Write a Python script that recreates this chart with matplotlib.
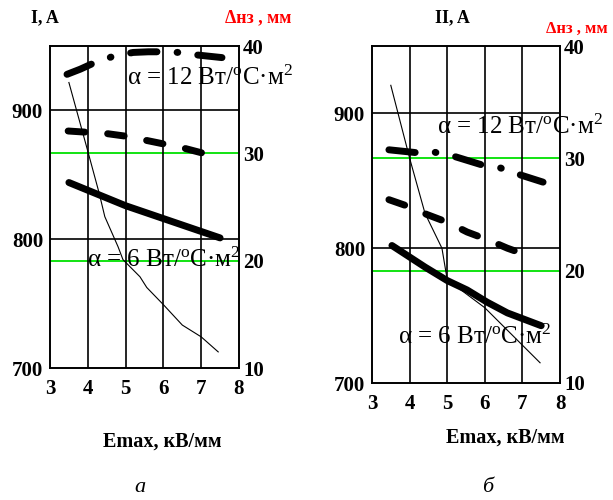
import numpy as np
import matplotlib
matplotlib.use("Agg")
import matplotlib.pyplot as plt

plt.rcParams['font.family'] = ['Liberation Serif', 'DejaVu Serif']
plt.rcParams['mathtext.fontset'] = 'custom'
plt.rcParams['mathtext.rm'] = 'Liberation Serif'
plt.rcParams['mathtext.it'] = 'Liberation Serif:italic'
plt.rcParams['lines.scale_dashes'] = False

# ---- panel a ----
xa_d = [3.5, 4.0, 4.3, 4.45, 4.8, 4.93, 5.38, 5.56, 6.0, 6.5, 7.0, 7.45]
da_d = [36.6, 30.2, 26.3, 24.1, 21.3, 20.1, 18.5, 17.5, 15.9, 14.0, 12.9, 11.5]
xa_6 = [3.5, 4.0, 4.5, 5.0, 5.5, 6.0, 6.5, 7.0, 7.5]
ia_6 = [844, 838, 832, 826, 821, 816, 811, 806, 801]
xa_9 = [3.48, 4.0, 4.5, 5.0, 5.5, 6.0, 6.5, 7.15]
ia_9 = [884, 883, 882, 880, 877, 874, 871, 866]
xa_12 = [3.45, 3.8, 4.1, 4.67, 5.2, 5.6, 6.0, 6.4, 6.9, 7.55]
ia_12 = [928, 932, 936, 942, 945, 945.5, 945.5, 945, 943, 941]

# ---- panel b ----
xb_d = [3.5, 4.01, 4.41, 4.86, 5.0, 5.6, 6.0, 6.6, 7.47]
db_d = [36.5, 29.9, 25.1, 22.0, 19.2, 17.7, 16.7, 14.7, 11.8]
xb_6 = [3.53, 4.41, 5.0, 5.53, 6.06, 6.6, 7.5]
ib_6 = [802, 786, 776, 769, 760, 752, 742.5]
xb_9 = [3.45, 4.07, 4.46, 5.03, 5.53, 6.1, 6.6, 7.1]
ib_9 = [836, 830, 825, 819, 812, 806, 800, 795]
xb_12 = [3.45, 4.14, 4.6, 5.2, 5.9, 6.4, 6.93, 7.55]
ib_12 = [873, 871, 871.6, 868, 862, 859.7, 854.5, 849]

W, H = 613, 500
fig = plt.figure(figsize=(W / 100, H / 100), dpi=100)


def px(x, y):
    return x / W, 1 - y / H


def panel(box, xd, dd, x6, i6, x9, i9, x12, i12, t12, t6):
    l, t, r, b = box
    ax = fig.add_axes([l / W, 1 - b / H, (r - l) / W, (b - t) / H])
    ax2 = ax.twinx()
    ax.set_xlim(3, 8)
    ax.set_ylim(700, 950)
    ax2.set_ylim(10, 40)
    ax.set_xticks([3, 4, 5, 6, 7, 8])
    ax.set_yticks([700, 800, 900])
    ax2.set_yticks([10, 20, 30, 40])
    for a in (ax, ax2):
        a.tick_params(length=0, labelsize=15)
        for s in a.spines.values():
            s.set_linewidth(1.2)
    ax.tick_params(axis='x', pad=8)
    ax.tick_params(axis='y', pad=5)
    ax2.tick_params(axis='y', pad=3)
    for lab in ax.get_yticklabels() + ax2.get_yticklabels() + ax.get_xticklabels():
        lab.set_fontweight('bold')
    for xv in [4, 5, 6, 7]:
        ax.axvline(xv, color='black', lw=1.2, zorder=1)
    for yv in [800, 900]:
        ax.axhline(yv, color='black', lw=1.2, zorder=1)
    ax2.axhline(20, color='#00e000', lw=1.3, zorder=1)
    ax2.axhline(30, color='#00e000', lw=1.3, zorder=1)

    ax2.plot(xd, dd, color='black', lw=0.8)
    ax.plot(x6, i6, color='black', lw=5, solid_capstyle='round')
    l9, = ax.plot(x9, i9, color='black', lw=5, dash_capstyle='round')
    l9.set_dashes([12, 16.5])
    l12, = ax.plot(x12, i12, color='black', lw=5, dash_capstyle='round')
    l12.set_dashes([19, 14.5, 0.5, 14.5])
    ax.set_zorder(ax2.get_zorder() + 1)
    ax.patch.set_visible(False)

    lab = 'α = %s Вт/$^{\\rm o}$С·м$^{2}$'
    ax.text(t12[0], t12[1], lab % '12', transform=ax.transAxes,
            fontsize=18, va='center', ha='left', clip_on=False, zorder=5)
    ax.text(t6[0], t6[1], lab % '6', transform=ax.transAxes,
            fontsize=18, va='center', ha='left', clip_on=False, zorder=5)
    return ax


panel((50, 46, 239, 368), xa_d, da_d, xa_6, ia_6, xa_9, ia_9, xa_12, ia_12,
      (0.407, 0.9), (0.196, 0.335))
panel((372, 46, 560, 383), xb_d, db_d, xb_6, ib_6, xb_9, ib_9, xb_12, ib_12,
      (0.346, 0.76), (0.138, 0.137))

fig.text(*px(45, 18), 'I, A', fontsize=13, fontweight='bold', ha='center', va='center')
fig.text(*px(258, 18), 'Δнз , мм', fontsize=13, fontweight='bold', color='red',
         ha='center', va='center')
fig.text(*px(452, 18), 'II, A', fontsize=13, fontweight='bold', ha='center', va='center')
fig.text(*px(577, 29), 'Δнз , мм', fontsize=12, fontweight='bold', color='red',
         ha='center', va='center')
fig.text(*px(162, 442), 'Emax, кВ/мм', fontsize=14.5, fontweight='bold', ha='center', va='center')
fig.text(*px(505, 438), 'Emax, кВ/мм', fontsize=14.5, fontweight='bold', ha='center', va='center')
fig.text(*px(140, 488), 'а', fontsize=16, style='italic', ha='center', va='center')
fig.text(*px(488, 488), 'б', fontsize=16, style='italic', ha='center', va='center')

fig.savefig('out.png', dpi=100)
